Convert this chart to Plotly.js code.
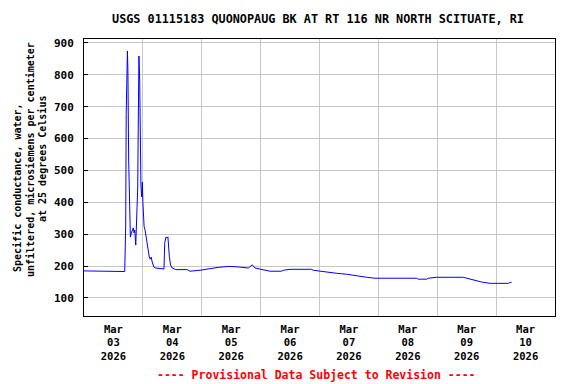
<!DOCTYPE html>
<html>
<head>
<meta charset="utf-8">
<script src="https://cdn.plot.ly/plotly-3.0.1.min.js"></script>
<style>html,body{margin:0;padding:0;background:#fff;}#chart{width:576px;height:384px;}</style>
</head>
<body>
<div id="chart"></div>
<script>
var chartTitle = "USGS 01115183 QUONOPAUG BK AT RT 116 NR NORTH SCITUATE, RI";
var yTitleLines = ["Specific conductance, water,", "unfiltered, microsiemens per centimeter", "at 25 degrees Celsius"];
var footnote = "---- Provisional Data Subject to Revision ----";

var times = [
  "2026-03-03 00:00","2026-03-03 16:00","2026-03-03 16:36","2026-03-03 17:00","2026-03-03 17:12",
  "2026-03-03 17:42","2026-03-03 17:54","2026-03-03 18:12","2026-03-03 18:36","2026-03-03 18:54",
  "2026-03-03 19:18","2026-03-03 19:42","2026-03-03 20:06","2026-03-03 20:24","2026-03-03 20:42",
  "2026-03-03 21:06","2026-03-03 21:30","2026-03-03 21:54","2026-03-03 22:06","2026-03-03 22:24",
  "2026-03-03 22:42","2026-03-03 23:00","2026-03-03 23:12","2026-03-03 23:30","2026-03-03 23:48",
  "2026-03-04 00:00","2026-03-04 00:30","2026-03-04 00:54","2026-03-04 01:24","2026-03-04 01:48",
  "2026-03-04 02:12","2026-03-04 02:36","2026-03-04 03:00","2026-03-04 03:24","2026-03-04 03:48",
  "2026-03-04 04:30","2026-03-04 05:12","2026-03-04 07:18","2026-03-04 08:36","2026-03-04 08:54",
  "2026-03-04 09:24","2026-03-04 09:48","2026-03-04 10:12","2026-03-04 10:48","2026-03-04 11:18",
  "2026-03-04 12:00","2026-03-04 13:24","2026-03-04 18:06","2026-03-04 18:48","2026-03-04 19:12",
  "2026-03-04 23:18","2026-03-05 01:18","2026-03-05 03:24","2026-03-05 06:42","2026-03-05 10:48",
  "2026-03-05 14:12","2026-03-05 19:00","2026-03-05 20:36","2026-03-05 21:42","2026-03-05 23:42",
  "2026-03-06 01:06","2026-03-06 03:48","2026-03-06 08:36","2026-03-06 09:12","2026-03-06 12:00",
  "2026-03-06 20:48","2026-03-06 21:30","2026-03-07 00:12","2026-03-07 02:54","2026-03-07 07:00",
  "2026-03-07 11:06","2026-03-07 13:48","2026-03-07 16:30","2026-03-07 19:12","2026-03-07 22:36",
  "2026-03-08 15:36","2026-03-08 16:18","2026-03-08 19:42","2026-03-08 20:24","2026-03-08 23:48",
  "2026-03-09 10:36","2026-03-09 12:00","2026-03-09 14:00","2026-03-09 16:06","2026-03-09 18:06",
  "2026-03-09 21:30","2026-03-10 05:00","2026-03-10 05:42","2026-03-10 06:18"
];
var conductance = [
  185,185,183,326,676,
  875,812,536,376,291,
  304,313,320,304,313,
  266,335,448,627,859,
  784,555,455,417,464,
  400,324,313,288,272,
  246,229,222,228,213,
  197,194,191,191,272,
  291,288,292,229,203,
  194,189,189,185,184,
  187,190,193,196,199,
  198,194,204,194,190,
  187,184,184,187,190,
  190,187,184,181,177.5,
  174.5,171,168,165,162,
  162,159,159,162,165,
  165,162,159,155.5,150,
  146,146,149,149
];

var fontFam = "DejaVu Sans Mono, monospace";
var W = 576, H = 384, L = 84, R = 21, T = 39, B = 68;
var pw = W - L - R, ph = H - T - B;
function px2paperX(px) { return (px - L) / pw; }
function px2paperY(py) { return (H - B - py) / ph; }

var trace = {
  x: times, y: conductance, type: "scatter", mode: "lines",
  line: {color: "#0000ff", width: 1}, hoverinfo: "skip"
};

var yTitlePos = [[17, 188], [30, 160], [42, 159]];
var annotations = yTitleLines.map(function (t, i) {
  return {text: t, xref: "paper", yref: "paper",
    x: px2paperX(yTitlePos[i][0]), y: px2paperY(yTitlePos[i][1]),
    xanchor: "center", yanchor: "middle", textangle: -90, showarrow: false,
    font: {family: fontFam, size: 10, color: "#000", weight: "bold"}};
});
annotations.push({text: footnote, xref: "paper", yref: "paper", x: px2paperX(316.5), y: px2paperY(375),
  xanchor: "center", yanchor: "middle", showarrow: false,
  font: {family: fontFam, size: 11.5, color: "#ff0000", weight: "bold"}});

var layout = {
  width: W, height: H,
  margin: {l: L, r: R, t: T, b: B},
  paper_bgcolor: "#fff", plot_bgcolor: "#fff",
  font: {family: fontFam, size: 11, color: "#000", weight: "bold"},
  showlegend: false,
  title: {text: chartTitle, font: {family: fontFam, size: 11.8, color: "#000", weight: "bold"},
          x: px2paperX(318), xref: "paper", xanchor: "center", y: 1 - 19/384, yanchor: "middle"},
  xaxis: {
    type: "date", range: ["2026-03-03 00:00", "2026-03-11 00:00"],
    tick0: "2026-03-03", dtick: 86400000, tickformat: "%b<br>%d<br>%Y",
    ticklabelmode: "period", ticks: "", ticklabelstandoff: 3,
    showgrid: true, gridcolor: "#c8c8c8", gridwidth: 1,
    showline: true, linecolor: "#000", linewidth: 1, mirror: true,
    tickfont: {family: fontFam, size: 10.5, color: "#000", weight: "bold"},
    zeroline: false
  },
  yaxis: {
    range: [43.5, 912.5], tick0: 100, dtick: 100,
    ticks: "inside", ticklen: 4, tickcolor: "#000", ticklabelstandoff: 7,
    showgrid: true, gridcolor: "#c8c8c8", gridwidth: 1,
    showline: true, linecolor: "#000", linewidth: 1, mirror: true,
    tickfont: {family: fontFam, size: 11, color: "#000", weight: "bold"},
    zeroline: false
  },
  annotations: annotations
};

Plotly.newPlot("chart", [trace], layout, {staticPlot: true, displayModeBar: false});
</script>
</body>
</html>
